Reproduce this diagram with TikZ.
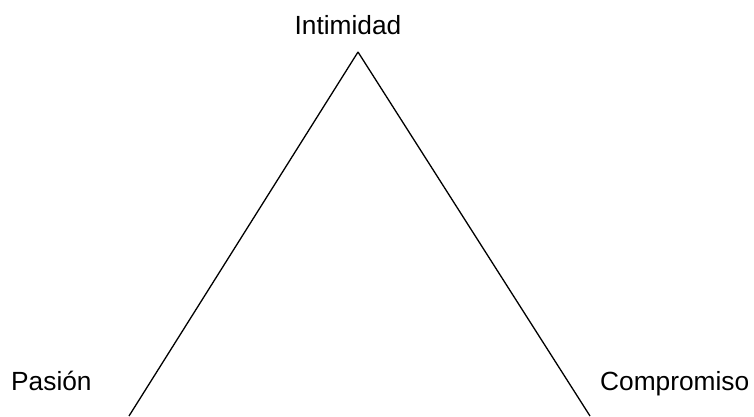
\documentclass[tikz,border=0pt]{standalone}
\usepackage{fontspec}
\setmainfont{Liberation Sans}
\usepackage{tikz}
\usetikzlibrary{positioning}

\begin{document}
\begin{tikzpicture}[
  x=1pt, y=-1pt,
  font=\fontsize{26.3}{30}\selectfont,
  vlabel/.style={inner sep=0pt, anchor=base},
  side/.style={draw=black, line width=1.3pt},
]
\useasboundingbox (0,0) rectangle (754,416);

% ---- vertices ----
\coordinate (top) at (358,52);
\coordinate (botleft) at (129,416);
\coordinate (botright) at (590,416);

% ---- labels ----
\node[vlabel] (intimidad) at (348,34) {Intimidad};
\node[vlabel, anchor=base west] (pasion) at (11,390) {Pasión};
\node[vlabel, anchor=base west] (compromiso) at (600,390) {Compromiso};

% ---- sides ----
\draw[side] (top) -- (botleft);
\draw[side] (top) -- (botright);
\end{tikzpicture}
\end{document}
